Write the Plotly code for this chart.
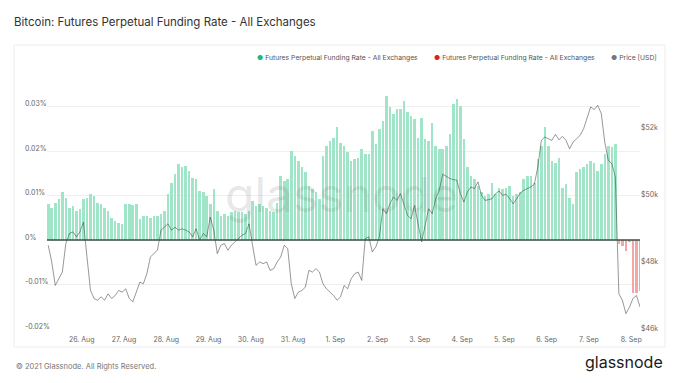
import pandas as pd
import plotly.graph_objects as go

# ---- data (2-hourly readings, starting 2021-08-25 05:00) ----
start_time = "2021-08-25 05:00"
step = "2h"

funding_rate_pct = [
    0.0080, 0.0073, 0.0084, 0.0092, 0.0107, 0.0095, 0.0073, 0.0077, 0.0065, 0.0069,
    0.0092, 0.0095, 0.0103, 0.0099, 0.0084, 0.0080, 0.0073, 0.0065, 0.0050, 0.0043,
    0.0039, 0.0035, 0.0080, 0.0080, 0.0078, 0.0080, 0.0047, 0.0054, 0.0053, 0.0050,
    0.0054, 0.0054, 0.0058, 0.0065, 0.0103, 0.0129, 0.0148, 0.0170, 0.0163, 0.0167,
    0.0155, 0.0140, 0.0137, 0.0110, 0.0107, 0.0099, 0.0080, 0.0114, 0.0065, 0.0054,
    0.0058, 0.0054, 0.0062, 0.0065, 0.0062,
    0.0062, 0.0058, 0.0065, 0.0088, 0.0077, 0.0080, 0.0077, 0.0073, 0.0065, 0.0062,
    0.0084, 0.0144, 0.0133, 0.0137, 0.0200, 0.0189, 0.0178, 0.0163, 0.0152, 0.0122,
    0.0114, 0.0107, 0.0092, 0.0189, 0.0212, 0.0223, 0.0230, 0.0253, 0.0219, 0.0212,
    0.0197, 0.0178, 0.0182, 0.0185, 0.0204, 0.0193, 0.0193, 0.0245, 0.0215, 0.0249,
    0.0268, 0.0324, 0.0298, 0.0283, 0.0294, 0.0294, 0.0313, 0.0287, 0.0279, 0.0272,
    0.0230, 0.0275, 0.0227, 0.0223, 0.0264, 0.0212, 0.0204,
    0.0204, 0.0212, 0.0238, 0.0305, 0.0317, 0.0302, 0.0227, 0.0163, 0.0144, 0.0137,
    0.0122, 0.0107, 0.0099, 0.0103, 0.0129, 0.0103, 0.0118, 0.0114, 0.0118, 0.0122,
    0.0099, 0.0103, 0.0107, 0.0137, 0.0144, 0.0144, 0.0129, 0.0182, 0.0212, 0.0253,
    0.0212, 0.0178, 0.0174, 0.0185, 0.0118, 0.0125, 0.0095, 0.0080, 0.0152, 0.0159,
    0.0163, 0.0170, 0.0178, 0.0174, 0.0155, 0.0170, 0.0193, 0.0212, 0.0208, 0.0215,
    -0.0008, -0.0013, -0.0025, -0.0004, -0.0118, -0.0118, -0.0115,
]

price_usd = [
    48500, 48000, 47300, 47500, 47700, 48550, 48850, 48900, 48750, 48900,
    49190, 48150, 47150, 46910, 46860, 46960, 46860, 47050, 46910, 47000,
    47150, 47100, 47200, 46910, 46810, 47100, 47400, 47350, 47650, 48150,
    48250, 48350, 48950, 49040, 49140, 48950, 49040, 48950, 48990, 48950,
    48900, 48750, 48990, 48650, 48850, 48750, 49340, 48950, 48250, 48500,
    48550, 48350, 48500, 48600, 48700,
    48800, 48850, 49140, 48500, 47900, 48000, 47950, 48000, 47750, 47800,
    48000, 48150, 48500, 48400, 47350, 46910, 47100, 47150, 47250, 47750,
    47700, 47800, 47700, 47350, 47200, 47100, 47000, 46860, 46960, 47300,
    47200, 47500, 47650, 47700, 47450, 48700, 48750, 48300, 48450, 48750,
    49590, 49440, 49740, 49940, 49840, 50040, 49740, 49390, 49290, 49690,
    49140, 48600, 49090, 49590, 49440, 49890, 50140,
    50620, 50560, 50490, 50460, 50440, 50040, 49790, 50090, 50240, 50190,
    50390, 49990, 49840, 49860, 49890, 50040, 50120, 49990, 50020, 49890,
    49740, 49890, 50060, 50140, 50180, 50240, 50320, 50840, 51630, 51730,
    51680, 51630, 51810, 51650, 51750, 51630, 51380, 51580, 51680, 51780,
    51980, 52330, 52630, 52550, 52680, 52430, 51580, 51030, 50940, 50540,
    47050, 46860, 46460, 46650, 46910, 47000, 46660,
]

x_tick_dates = ["2021-08-26", "2021-08-27", "2021-08-28", "2021-08-29", "2021-08-30",
                "2021-08-31", "2021-09-01", "2021-09-02", "2021-09-03", "2021-09-04",
                "2021-09-05", "2021-09-06", "2021-09-07", "2021-09-08"]
x_tick_labels = ["26. Aug", "27. Aug", "28. Aug", "29. Aug", "30. Aug", "31. Aug",
                 "1. Sep", "2. Sep", "3. Sep", "4. Sep", "5. Sep", "6. Sep", "7. Sep", "8. Sep"]
left_tick_vals = [0.03, 0.02, 0.01, 0, -0.01, -0.02]
left_tick_labels = ["0.03%", "0.02%", "0.01%", "0%", "-0.01%", "-0.02%"]
right_tick_vals = [46000, 48000, 50000, 52000]
right_tick_labels = ["$46k", "$48k", "$50k", "$52k"]

series_name = "Futures Perpetual Funding Rate - All Exchanges"

# ---- figure ----
times = pd.date_range(start_time, periods=len(funding_rate_pct), freq=step)
GREEN = "#a0e5c7"
RED = "#f4a6a6"
bar_colors = [GREEN if v >= 0 else RED for v in funding_rate_pct]

W, H = 680, 383
L, R, T, B = 47, 40, 88, 54
pw, ph = W - L - R, H - T - B


def px_x(px):
    return (px - L) / pw


def px_y(py):
    return (H - B - py) / ph


fig = go.Figure()
fig.add_trace(go.Bar(
    x=times, y=funding_rate_pct, marker=dict(color=bar_colors, line=dict(width=0)),
    width=1.45 * 3600 * 1000, name=series_name, showlegend=False, yaxis="y",
))
fig.add_trace(go.Scatter(
    x=times, y=price_usd, mode="lines", line=dict(color="rgba(50,50,50,0.5)", width=1),
    name="Price [USD]", showlegend=False, yaxis="y2",
))

FONT = "Inter, Roboto, sans-serif"
fig.update_layout(
    width=W, height=H,
    margin=dict(l=L, r=R, t=T, b=B),
    paper_bgcolor="white", plot_bgcolor="white",
    bargap=0,
    showlegend=False,
    font=dict(family=FONT, size=7, color="#666"),
    title=dict(text="Bitcoin: Futures Perpetual Funding Rate - All Exchanges",
               x=14 / W, xanchor="left", y=1 - 22 / H, yanchor="middle",
               font=dict(family=FONT, size=11.5, color="#333")),
    xaxis=dict(
        type="date",
        range=["2021-08-25 04:18", "2021-09-08 05:00"],
        tickvals=x_tick_dates, ticktext=x_tick_labels,
        showgrid=False, zeroline=False, showline=False,
        ticks="outside", ticklen=4, tickcolor="rgba(0,0,0,0)",
        tickfont=dict(size=7, color="#666"),
    ),
    yaxis=dict(
        range=[-0.02, 0.03416],
        tickvals=left_tick_vals, showticklabels=False,
        showgrid=True, gridcolor="#efefef", gridwidth=1,
        zeroline=False, showline=False,
    ),
    yaxis2=dict(
        range=[46000, 53194], overlaying="y", side="right",
        tickvals=right_tick_vals, ticktext=right_tick_labels,
        showgrid=False, zeroline=False, showline=False,
        ticks="", tickfont=dict(size=7, color="#666"),
    ),
)

# zero line
fig.add_shape(type="line", xref="paper", x0=0, x1=1, yref="y", y0=0, y1=0,
              line=dict(color="#3b4f45", width=1.5), layer="above")
# card border
fig.add_shape(type="rect", xref="paper", yref="paper",
              x0=px_x(14), x1=px_x(665), y0=px_y(347), y1=px_y(45),
              line=dict(color="#ececec", width=1), layer="below")

ann = []
# left axis labels (left aligned like the reference)
for v, t in zip(left_tick_vals, left_tick_labels):
    ann.append(dict(x=px_x(23), xref="paper", y=v, yref="y", yshift=3, text=t,
                    showarrow=False, xanchor="left", yanchor="middle",
                    font=dict(size=7, color="#666")))

# legend
legend_items = [
    (255, "#27b56f", series_name),
    (432, "#e02020", series_name),
    (609, "#777777", "Price [USD]"),
]
for x0, c, label in legend_items:
    ann.append(dict(x=px_x(x0), xref="paper", y=px_y(57), yref="paper",
                    text=f"<span style='color:{c}'>●</span> {label}",
                    showarrow=False, xanchor="left", yanchor="middle",
                    font=dict(size=6.8, color="#555")))

# watermark
ann.append(dict(x=px_x(341), xref="paper", y=px_y(194), yref="paper", text="glassnode",
                showarrow=False, xanchor="center", yanchor="middle",
                font=dict(family=FONT, size=48, color="rgba(110,110,110,0.16)")))
# footer
ann.append(dict(x=px_x(14), xref="paper", y=px_y(366), yref="paper",
                text="© 2021 Glassnode. All Rights Reserved.",
                showarrow=False, xanchor="left", yanchor="middle",
                font=dict(family=FONT, size=7.5, color="#777")))
ann.append(dict(x=px_x(665), xref="paper", y=px_y(362), yref="paper", text="glassnode",
                showarrow=False, xanchor="right", yanchor="middle",
                font=dict(family=FONT, size=16, color="#1a1a1a")))

fig.update_layout(annotations=ann)
fig.write_html("out.html", config={"displayModeBar": False},
               post_script="document.body.style.margin='0';")
